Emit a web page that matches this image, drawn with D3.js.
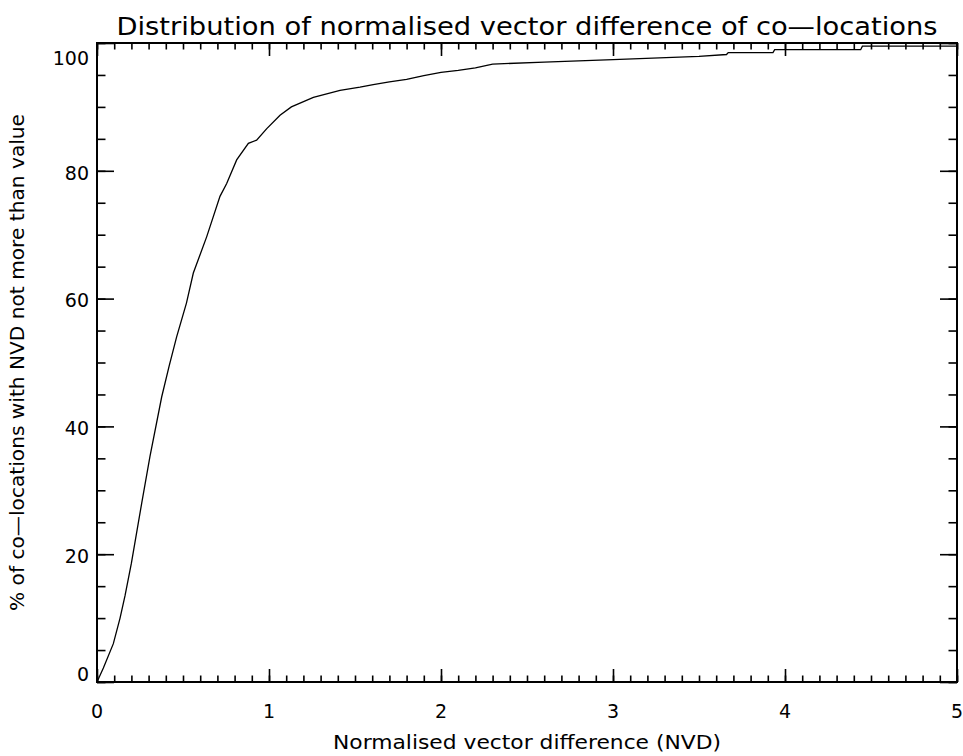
<!DOCTYPE html>
<html>
<head>
<meta charset="utf-8">
<script src="https://cdn.jsdelivr.net/npm/d3@7"></script>
<style>
  body { margin: 0; background: #fff; }
  text { font-family: "DejaVu Sans", sans-serif; fill: #000; }
</style>
</head>
<body>
<div id="chart"></div>
<script>
const nvd = [0, 0.037, 0.095, 0.134, 0.163, 0.20, 0.26, 0.308, 0.376, 0.42, 0.463, 0.52, 0.56, 0.638, 0.715,
  0.754, 0.812, 0.88, 0.928, 0.987, 1.064, 1.13, 1.258, 1.413, 1.529, 1.606, 1.7, 1.8, 1.9, 2.0, 2.1,
  2.2, 2.3, 2.6, 3.0, 3.5, 3.66, 3.67, 3.93, 3.94, 4.44, 4.45, 5.0];
const pct = [0, 2.2, 6, 10, 13.5, 18.6, 28, 35.3, 44.6, 49.5, 54, 59.3, 64, 69.7, 76,
  78, 81.7, 84.3, 84.8, 86.6, 88.7, 90, 91.5, 92.6, 93.1, 93.5, 93.9, 94.3, 94.9, 95.4, 95.7,
  96.1, 96.7, 97.0, 97.4, 97.9, 98.2, 98.5, 98.5, 98.95, 98.95, 99.5, 99.5];
const xTicks = [0, 1, 2, 3, 4, 5];
const yTicks = [0, 20, 40, 60, 80, 100];

const width = 963, height = 756, margin = { top: 43, right: 6, bottom: 74, left: 97 };
const x0 = margin.left, x1 = width - margin.right, y0 = height - margin.bottom, y1 = margin.top;

const x = d3.scaleLinear().domain([0, 5]).range([x0, x1]);
const y = d3.scaleLinear().domain([0, 100]).range([y0, y1]);

const svg = d3.select("#chart").append("svg").attr("width", width).attr("height", height);

const xMinor = d3.range(0, 5.0001, 0.1).map(d => +d.toFixed(1));
const yMinor = d3.range(0, 100.0001, 5);
const xMaj = 13, yMaj = 17;

// inward ticks on all four sides
function ticks(axis, tr, vals, size) {
  const g = svg.append("g").attr("transform", tr)
    .call(axis.tickValues(vals).tickSize(size).tickFormat(""));
  g.select(".domain").remove();
  g.selectAll(".tick line").attr("stroke", "#000").attr("stroke-width", 1.6);
}
ticks(d3.axisTop(x), `translate(0,${y0})`, xMinor, xMaj / 2);
ticks(d3.axisTop(x), `translate(0,${y0})`, xTicks, xMaj);
ticks(d3.axisBottom(x), `translate(0,${y1})`, xMinor, xMaj / 2);
ticks(d3.axisBottom(x), `translate(0,${y1})`, xTicks, xMaj);
ticks(d3.axisRight(y), `translate(${x0},0)`, yMinor, yMaj / 2);
ticks(d3.axisRight(y), `translate(${x0},0)`, yTicks, yMaj);
ticks(d3.axisLeft(y), `translate(${x1},0)`, yMinor, yMaj / 2);
ticks(d3.axisLeft(y), `translate(${x1},0)`, yTicks, yMaj);

svg.append("rect")
  .attr("x", x0).attr("y", y1).attr("width", x1 - x0).attr("height", y0 - y1)
  .attr("fill", "none").attr("stroke", "#000").attr("stroke-width", 2);

// tick labels
svg.selectAll(".xl").data(xTicks).join("text")
  .attr("x", d => x(d)).attr("y", 718)
  .attr("text-anchor", "middle").attr("font-size", 19)
  .text(d => d);
svg.selectAll(".yl").data(yTicks).join("text")
  .attr("x", x0 - 8)
  .attr("y", d => Math.min(Math.max(y(d) + 2, 58), 674))
  .attr("dy", "0.36em")
  .attr("text-anchor", "end").attr("font-size", 19)
  .text(d => d);

// curve
svg.append("path")
  .datum(d3.zip(nvd, pct))
  .attr("d", d3.line().x(d => x(d[0])).y(d => y(d[1])))
  .attr("fill", "none").attr("stroke", "#000").attr("stroke-width", 1.3);

// titles
svg.append("text")
  .attr("x", (x0 + x1) / 2).attr("y", 35)
  .attr("text-anchor", "middle").attr("font-size", 25)
  .attr("textLength", 821).attr("lengthAdjust", "spacingAndGlyphs")
  .text("Distribution of normalised vector difference of co\u2014locations");
svg.append("text")
  .attr("x", (x0 + x1) / 2).attr("y", 749)
  .attr("text-anchor", "middle").attr("font-size", 19)
  .attr("textLength", 388).attr("lengthAdjust", "spacingAndGlyphs")
  .text("Normalised vector difference (NVD)");
svg.append("text")
  .attr("transform", `translate(24,${(y0 + y1) / 2}) rotate(-90)`)
  .attr("text-anchor", "middle").attr("font-size", 19)
  .attr("textLength", 497).attr("lengthAdjust", "spacingAndGlyphs")
  .text("% of co\u2014locations with NVD not more than value");
</script>
</body>
</html>
